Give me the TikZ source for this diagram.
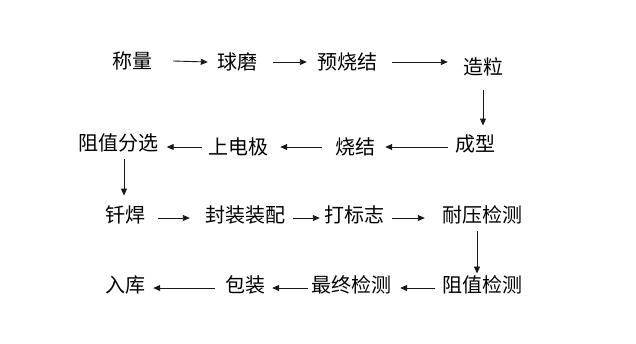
\documentclass[tikz,border=0pt]{standalone}
\usepackage{fontspec}
\setmainfont{Noto Sans CJK SC}
\usepackage{tikz}
\usetikzlibrary{positioning, arrows.meta}
\tikzset{
    paso/.style={rectangle, inner sep=0pt, font=\fontsize{20}{24}\selectfont, text=black},
    flecha/.style={draw, -{Triangle[length=7pt, width=6pt]}, line width=0.9pt, color=black!90}
}

\begin{document}
\begin{tikzpicture}[x=1pt, y=-1pt]
    \useasboundingbox (0,0) rectangle (636,343);

    % 1. Primera fila (izquierda a derecha)
    \node[paso] (cl) at (132,61) {称量};
    \node[paso] (qm) at (237,62) {球磨};
    \node[paso] (ysj) at (347,62) {预烧结};
    \node[paso] (zl) at (483,67) {造粒};

    % 2. Segunda fila (derecha a izquierda)
    \node[paso] (cx) at (475,144) {成型};
    \node[paso] (sj) at (355,147) {烧结};
    \node[paso] (sdj) at (238,147) {上电极};
    \node[paso] (zzfx) at (118.5,143) {阻值分选};

    % 3. Tercera fila
    \node[paso] (qh) at (125,215) {钎焊};
    \node[paso] (fz) at (245,215) {封装装配};
    \node[paso] (dbz) at (354,215) {打标志};
    \node[paso] (ny) at (482,215) {耐压检测};

    % 4. Cuarta fila
    \node[paso] (zzjc) at (482,285) {阻值检测};
    \node[paso] (zz) at (351,285) {最终检测};
    \node[paso] (bz) at (245,285) {包装};
    \node[paso] (rk) at (125,285) {入库};

    % --- CONEXIONES ---

    % Primera fila
    \draw[flecha] ([xshift=21pt]cl.east) -- ([xshift=-9pt]qm.west);
    \draw[flecha] ([xshift=16pt]qm.east) -- ([xshift=-10pt]ysj.west);
    \draw[flecha] ([xshift=15pt]ysj.east) -- ([xshift=-15pt]zl.west |- ysj.east);
    \draw[flecha] ([yshift=-14pt]zl.south) -- ([yshift=9pt]zl.south |- cx.north);

    % Segunda fila
    \draw[flecha] ([xshift=-7pt]cx.west |- sj.east) -- ([xshift=10pt]sj.east);
    \draw[flecha] ([xshift=-13pt]sj.west) -- ([xshift=12pt]sdj.east);
    \draw[flecha] ([xshift=-6pt]sdj.west) -- ([xshift=8pt]zzfx.east |- sdj.west);
    \draw[flecha] ([xshift=-1pt,yshift=-7pt]qh.north |- zzfx.south) -- ([xshift=-1pt,yshift=10pt]qh.north);

    % Tercera fila
    \draw[flecha] ([xshift=13pt,yshift=-3pt]qh.east) -- ([xshift=-15pt,yshift=-3pt]fz.west);
    \draw[flecha] ([xshift=8pt,yshift=-3pt]fz.east) -- ([xshift=-4pt,yshift=-3pt]dbz.west);
    \draw[flecha] ([xshift=8pt,yshift=-3pt]dbz.east) -- ([xshift=-17pt,yshift=-3pt]ny.west);
    \draw[flecha] ([xshift=-5pt,yshift=-7pt]ny.south) -- ([xshift=-5pt,yshift=2pt]zzjc.north);

    % Cuarta fila
    \draw[flecha] ([xshift=-7pt,yshift=-3pt]zzjc.west) -- ([xshift=9pt,yshift=-3pt]zz.east);
    \draw[flecha] ([xshift=-3pt,yshift=-3pt]zz.west) -- ([xshift=7pt,yshift=-3pt]bz.east);
    \draw[flecha] ([xshift=-10pt,yshift=-3pt]bz.west) -- ([xshift=8pt,yshift=-3pt]rk.east);

\end{tikzpicture}
\end{document}
